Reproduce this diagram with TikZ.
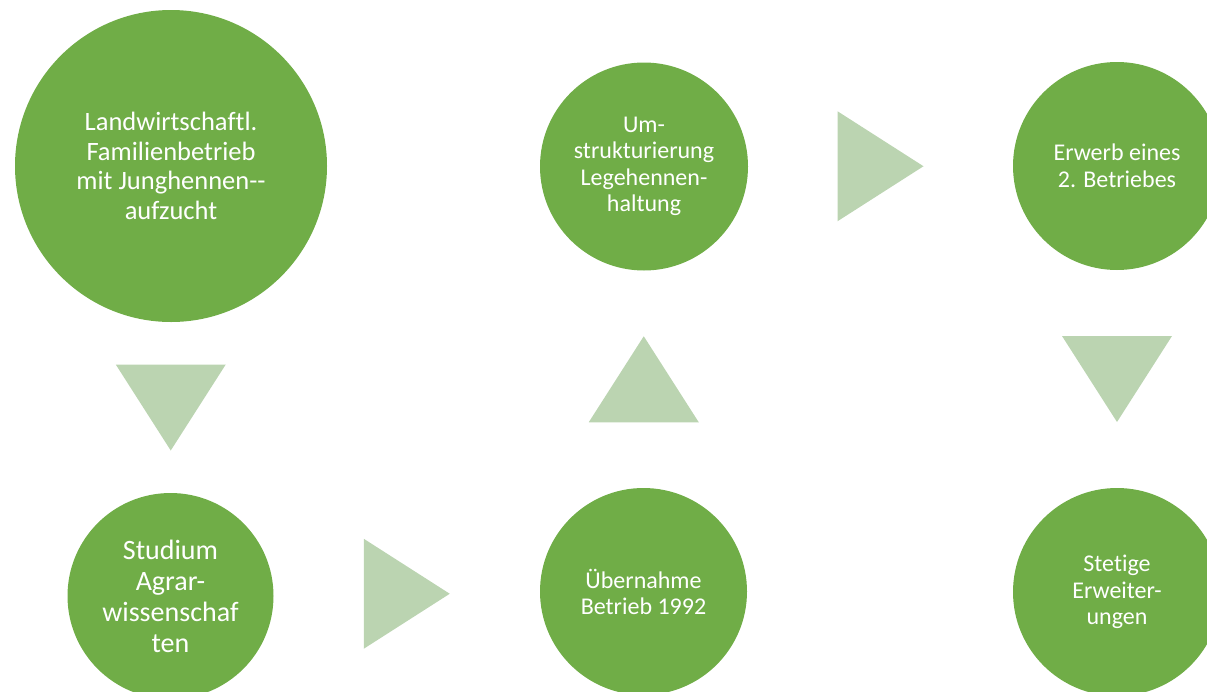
\documentclass[tikz,border=0pt]{standalone}
\usepackage{fontspec}
\setmainfont[Ligatures={NoCommon}]{Carlito}
\usetikzlibrary{%
  positioning,%
  calc%
}
\definecolor{kreisgruen}{HTML}{70AD47}
\definecolor{pfeilgruen}{HTML}{BBD4B1}

\begin{document}
\begin{tikzpicture}[
  x=1pt,y=-1pt,
  kreis/.style={circle,fill=kreisgruen,text=white,inner sep=0pt,align=center},
  pfeil/.style={fill=pfeilgruen},
]
\clip (0,0) rectangle (1207,691);

\node[kreis,minimum size=312pt,font=\fontsize{26.5}{29.5}\selectfont] (land) at (171,166)
  {Landwirtschaftl.\\Familienbetrieb\\mit Junghennen-{}-\\aufzucht};
\node[kreis,minimum size=206pt,font=\fontsize{28}{31}\selectfont] (stud) at (170.5,596)
  {Studium\\Agrar-\\wissenschaf\\ten};
\node[kreis,minimum size=207pt,font=\fontsize{24}{26}\selectfont] (ueber) at (643.5,591.5)
  {Übernahme\\Betrieb 1992};
\node[kreis,minimum size=208pt,font=\fontsize{24}{26.5}\selectfont] (umstr) at (644,166.5)
  {Um-\\strukturierung\\Legehennen-\\haltung};
\node[kreis,minimum size=208pt,font=\fontsize{24}{27}\selectfont] (erwerb) at (1117,166)
  {Erwerb eines\\2. Betriebes};
\node[kreis,minimum size=208pt,font=\fontsize{24}{26.5}\selectfont] (stetig) at (1117,592)
  {Stetige\\Erweiter-\\ungen};

% Pfeile zwischen den Kreisen
\fill[pfeil] ($(land.south)!0.5!(stud.north)$) ++(-55,-43) -- ++(110,0) -- ++(-55,86) -- cycle;
\fill[pfeil] ($(stud.east)!0.5!(ueber.west)$) ++(-43,-55) -- ++(0,110) -- ++(86,-55) -- cycle;
\fill[pfeil] ($(ueber.north)!0.5!(umstr.south)$) ++(-55,43) -- ++(110,0) -- ++(-55,-86) -- cycle;
\fill[pfeil] ($(umstr.east)!0.5!(erwerb.west)$) ++(-43,-55) -- ++(0,110) -- ++(86,-55) -- cycle;
\fill[pfeil] ($(erwerb.south)!0.5!(stetig.north)$) ++(-55,-43) -- ++(110,0) -- ++(-55,86) -- cycle;

\end{tikzpicture}
\end{document}
